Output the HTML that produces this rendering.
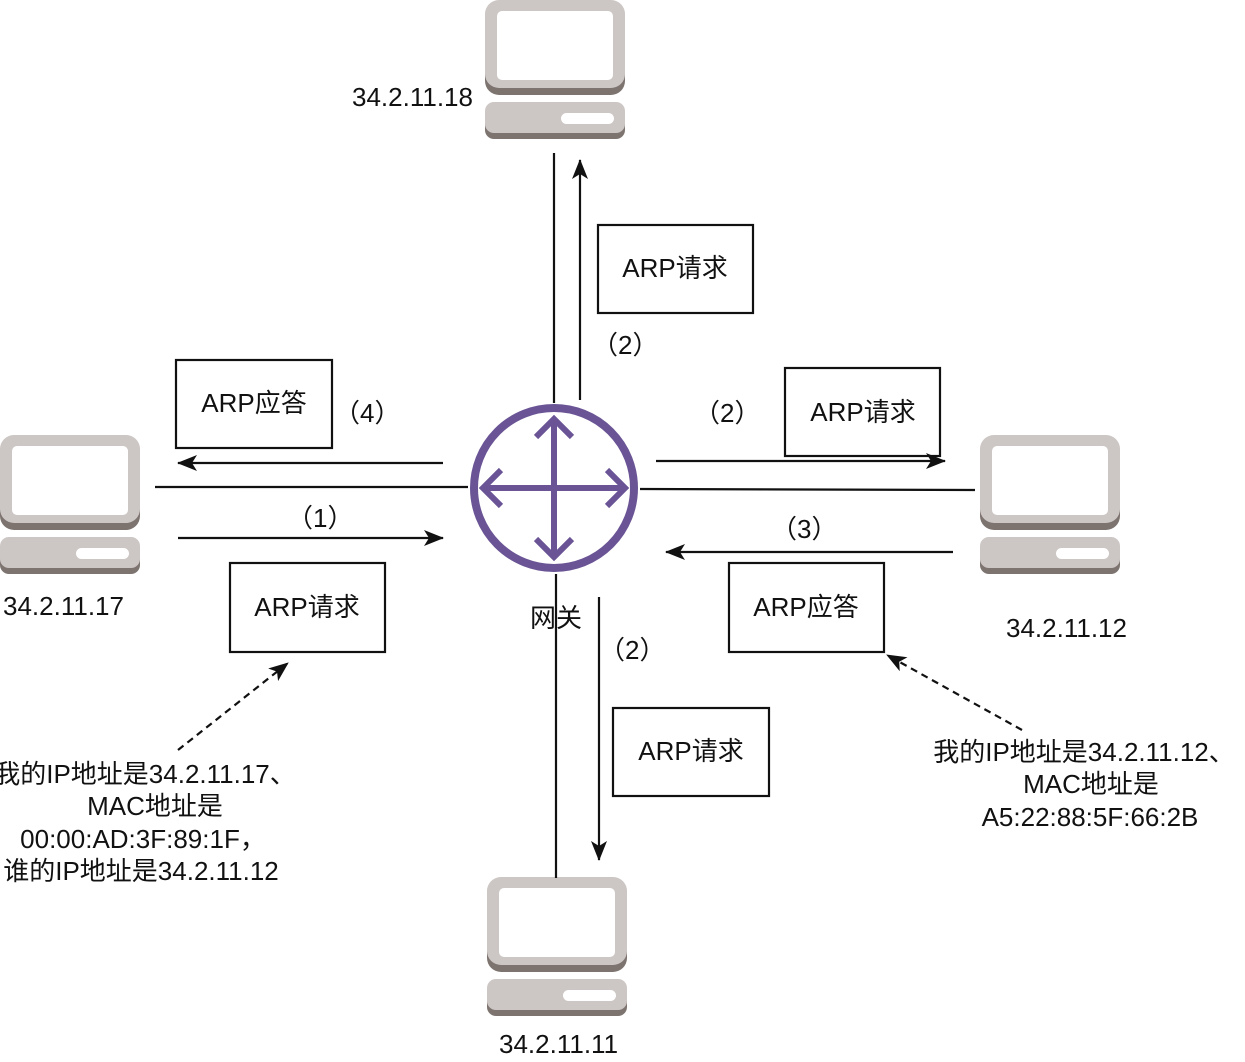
<!DOCTYPE html>
<html><head><meta charset="utf-8"><style>
html,body{margin:0;padding:0;background:#fff;}
svg{display:block;}
text{font-family:"Liberation Sans","Noto Sans CJK SC",sans-serif;font-size:26px;fill:#111;}
</style></head><body>
<svg width="1245" height="1062" viewBox="0 0 1245 1062" xmlns="http://www.w3.org/2000/svg">
<defs>
<g id="pc">
<rect x="0" y="6" width="140" height="89" rx="14" fill="#7d7470"/>
<rect x="0" y="0" width="140" height="88" rx="14" fill="#ccc6c4"/>
<rect x="12" y="11" width="116" height="69" rx="5" fill="#fff"/>
<rect x="0" y="106" width="140" height="33" rx="9" fill="#7d7470"/>
<rect x="0" y="102" width="140" height="31" rx="9" fill="#ccc6c4"/>
<rect x="76" y="113" width="53" height="11" rx="5.5" fill="#fff"/>
</g>
<marker id="ah" markerWidth="20" markerHeight="16" refX="19" refY="8" orient="auto" markerUnits="userSpaceOnUse">
<path d="M0,0 L20,8 L0,16 L5,8 Z" fill="#111"/>
</marker>
</defs>

<use href="#pc" x="485" y="0"/>
<use href="#pc" x="0" y="435"/>
<use href="#pc" x="980" y="435"/>
<use href="#pc" x="487" y="877"/>

<g stroke="#111" stroke-width="2.2" fill="none">
<line x1="554" y1="153" x2="554" y2="403"/>
<line x1="580" y1="400" x2="580" y2="160" marker-end="url(#ah)"/>
<line x1="556" y1="574" x2="556" y2="878"/>
<line x1="599" y1="597" x2="599" y2="860" marker-end="url(#ah)"/>
<line x1="155" y1="487" x2="468" y2="487"/>
<line x1="443" y1="463" x2="178" y2="463" marker-end="url(#ah)"/>
<line x1="178" y1="538" x2="443" y2="538" marker-end="url(#ah)"/>
<line x1="640" y1="489" x2="975" y2="490"/>
<line x1="656" y1="461" x2="945" y2="461" marker-end="url(#ah)"/>
<line x1="953" y1="552" x2="666" y2="552" marker-end="url(#ah)"/>
<line x1="178" y1="750" x2="288" y2="663" stroke-dasharray="7,5" marker-end="url(#ah)"/>
<line x1="1022" y1="730" x2="887" y2="655" stroke-dasharray="7,5" marker-end="url(#ah)"/>
<rect x="598" y="225" width="155" height="88"/>
<rect x="176" y="360" width="156" height="88"/>
<rect x="785" y="368" width="155" height="88"/>
<rect x="230" y="563" width="155" height="89"/>
<rect x="729" y="563" width="155" height="89"/>
<rect x="613" y="708" width="156" height="88"/>
</g>

<g stroke="#6a5495" fill="none" stroke-linecap="butt">
<circle cx="554" cy="488" r="80" stroke-width="8"/>
<g stroke-width="6">
<line x1="554" y1="420" x2="554" y2="556"/>
<line x1="484" y1="488" x2="624" y2="488"/>
<polyline points="536,437 554,419 572,437"/>
<polyline points="536,539 554,557 572,539"/>
<polyline points="501,470 483,488 501,506"/>
<polyline points="607,470 625,488 607,506"/>
</g>
</g>

<text x="352" y="106">34.2.11.18</text>
<text x="3" y="615">34.2.11.17</text>
<text x="1006" y="637">34.2.11.12</text>
<text x="499" y="1053">34.2.11.11</text>
<text x="530" y="627">网关</text>

<text x="675" y="277" text-anchor="middle">ARP请求</text>
<text x="254" y="412" text-anchor="middle">ARP应答</text>
<text x="863" y="421" text-anchor="middle">ARP请求</text>
<text x="307" y="616" text-anchor="middle">ARP请求</text>
<text x="806" y="616" text-anchor="middle">ARP应答</text>
<text x="691" y="760" text-anchor="middle">ARP请求</text>

<text x="592" y="354">（2）</text>
<text x="334" y="422">（4）</text>
<text x="694" y="422">（2）</text>
<text x="287" y="527">（1）</text>
<text x="771" y="538">（3）</text>
<text x="599" y="659">（2）</text>

<g text-anchor="middle">
<text x="145" y="783">我的IP地址是34.2.11.17、</text>
<text x="155" y="815">MAC地址是</text>
<text x="143" y="848">00:00:AD:3F:89:1F，</text>
<text x="141" y="880">谁的IP地址是34.2.11.12</text>
<text x="1084" y="761">我的IP地址是34.2.11.12、</text>
<text x="1091" y="793">MAC地址是</text>
<text x="1090" y="826">A5:22:88:5F:66:2B</text>
</g>
</svg>
</body></html>
